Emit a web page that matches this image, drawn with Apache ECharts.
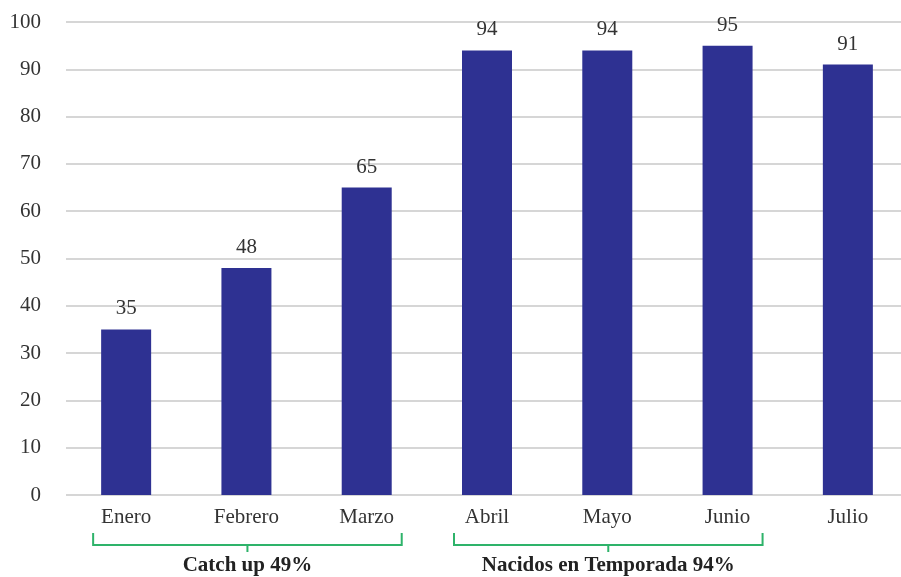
<!DOCTYPE html>
<html>
<head>
<meta charset="utf-8">
<script src="https://cdn.jsdelivr.net/npm/echarts@6/dist/echarts.min.js"></script>
<style>
  html, body { margin: 0; padding: 0; background: #fff; overflow: hidden; }
  /* the plot runs a few pixels past the right edge of the window */
  #chart { width: 908px; height: 577px; }
</style>
</head>
<body>
<div id="chart"></div>
<script>
// Monthly coverage (%)
const months = ['Enero', 'Febrero', 'Marzo', 'Abril', 'Mayo', 'Junio', 'Julio'];
const coverage = [35, 48, 65, 94, 94, 95, 91];
const yTicks = [0, 10, 20, 30, 40, 50, 60, 70, 80, 90, 100];

// Month groups shown with brackets under the axis
const groupNames = ['Catch up 49%', 'Nacidos en Temporada 94%'];
const groupStart = ['Enero', 'Abril'];
const groupEnd = ['Marzo', 'Junio'];

const FONT = '"Liberation Serif", "DejaVu Serif", serif';
const BAR = '#2e3192';
const GREEN = '#2eb36a';

const chart = echarts.init(document.getElementById('chart'));

chart.setOption({
  animation: false,
  grid: { left: 66, top: 22, right: 0, bottom: 82, containLabel: false },
  xAxis: {
    type: 'category',
    data: months,
    axisLine: { show: false },
    axisTick: { show: false },
    axisLabel: { color: '#333', fontFamily: FONT, fontSize: 21, margin: 12 }
  },
  yAxis: {
    type: 'value',
    min: yTicks[0],
    max: yTicks[yTicks.length - 1],
    interval: 10,
    axisLine: { show: false },
    axisTick: { show: false },
    axisLabel: { color: '#333', fontFamily: FONT, fontSize: 21, margin: 25 },
    splitLine: { lineStyle: { color: '#c8c8c8', width: 1.5 } }
  },
  series: [{
    type: 'bar',
    data: coverage,
    barWidth: 50,
    itemStyle: { color: BAR },
    label: {
      show: true,
      position: 'top',
      distance: 10,
      color: '#333',
      fontFamily: FONT,
      fontSize: 21
    }
  }]
});

// Brackets grouping the months, placed from the category scale
function drawBrackets() {
  const els = [];
  const yTop = 533, yLine = 545, yTip = 552;
  groupNames.forEach((name, i) => {
    const x0 = chart.convertToPixel({ xAxisIndex: 0 }, groupStart[i]) - 33;
    const x1 = chart.convertToPixel({ xAxisIndex: 0 }, groupEnd[i]) + 35;
    const xm = (x0 + x1) / 2;
    els.push({
      type: 'polyline',
      shape: { points: [[x0, yTop], [x0, yLine], [x1, yLine], [x1, yTop]] },
      style: { stroke: GREEN, lineWidth: 2, fill: null }
    });
    els.push({
      type: 'line',
      shape: { x1: xm, y1: yLine, x2: xm, y2: yTip },
      style: { stroke: GREEN, lineWidth: 2 }
    });
    els.push({
      type: 'text',
      x: xm, y: 566,
      style: {
        text: name,
        fill: '#222',
        font: 'bold 21px ' + FONT,
        textAlign: 'center',
        textVerticalAlign: 'middle'
      }
    });
  });
  chart.setOption({ graphic: { elements: els } });
}
drawBrackets();
</script>
</body>
</html>
